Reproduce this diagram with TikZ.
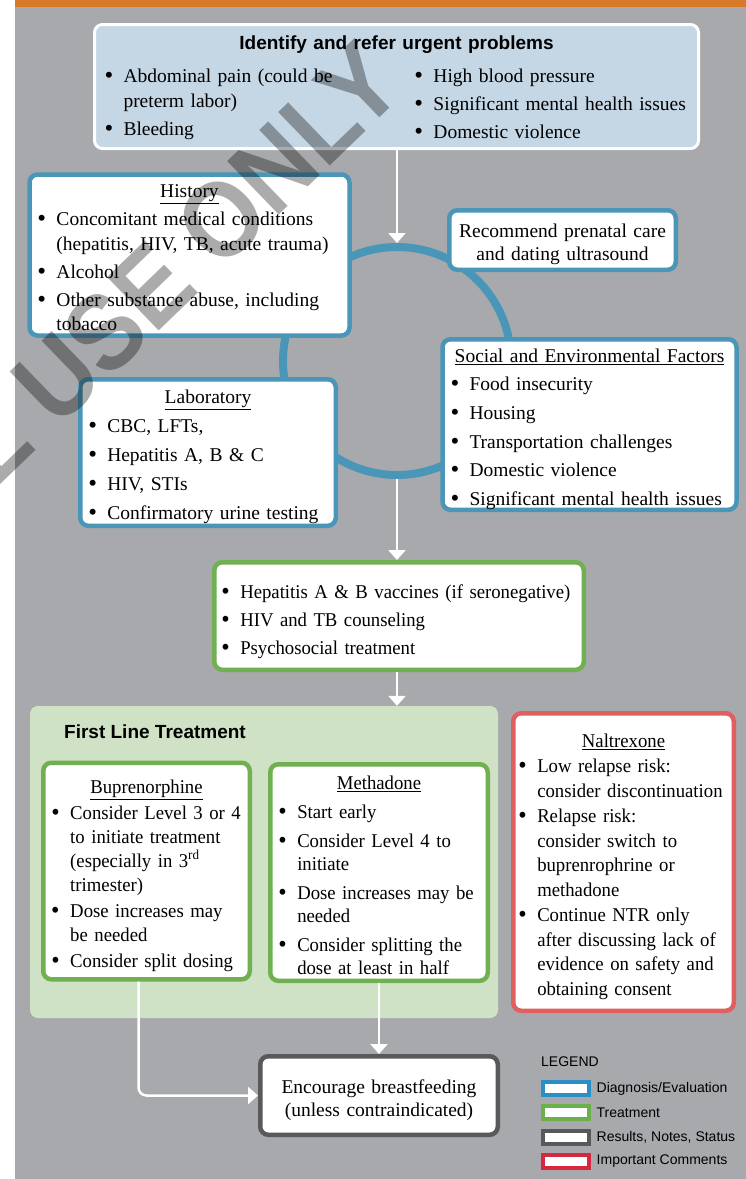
\documentclass[tikz,border=0pt]{standalone}
\usepackage{fontspec}
\setmainfont{Liberation Serif}
\setsansfont{Liberation Sans}
\newfontfamily\wmfamily[FakeStretch=0.9]{Liberation Sans Bold}
\usetikzlibrary{arrows.meta}

\definecolor{bggray}{HTML}{A7A9AC}
\definecolor{barorange}{HTML}{D97A2B}
\definecolor{urgentfill}{HTML}{C5D6E4}
\definecolor{diagblue}{HTML}{4A96B8}
\definecolor{treatgreen}{HTML}{70B050}
\definecolor{panelgreen}{HTML}{D0E2C5}
\definecolor{warnred}{HTML}{E06060}
\definecolor{notegray}{HTML}{58595B}
\definecolor{legblue}{HTML}{2A8FC4}
\definecolor{leggreen}{HTML}{6AB04C}
\definecolor{legred}{HTML}{D7263F}

\newcommand{\bodyfont}{\fontsize{19.5}{24.5}\selectfont}
\newcommand{\headfont}{\sffamily\bfseries\fontsize{19}{22}\selectfont}
\newcommand{\legfont}{\sffamily\fontsize{14}{16}\selectfont}
\newcommand{\wmfont}{\wmfamily\fontsize{108}{112}\selectfont}
\newlength{\bulwd}\setlength{\bulwd}{19pt}
\newcommand{\bigdot}{\raisebox{-1pt}{\fontsize{25}{25}\selectfont\textbullet}}
\newcommand{\bul}[1]{\par\hangindent=\bulwd\hangafter=1\rightskip=-14pt\relax
    \noindent\strut\makebox[\bulwd][l]{\bigdot}#1\strut\par}
\newcommand{\boxtitle}[1]{{\centering\strut\underline{#1}\par}}

\tikzset{
    list spacing/.style 2 args={execute at begin node={\fontsize{19.5}{#1}\selectfont\setlength{\parskip}{#2}}},
    box size/.style 2 args={minimum width=#1pt, minimum height=#2pt, text width=#1pt-16pt},
    boxbase/.style={rectangle, rounded corners=8pt, fill=white, line width=4.5pt,
        inner xsep=8pt, inner ysep=0pt, font=\bodyfont, list spacing={24.5pt}{3.5pt},
        execute at end node={\par\vspace{-9pt}}},
    tight text/.style={font=\bodyfont\addfontfeatures{FakeStretch=0.96}},
    diagbox/.style={boxbase, draw=diagblue},
    treatbox/.style={boxbase, draw=treatgreen},
    notebox/.style={boxbase, draw=notegray},
    warnbox/.style={boxbase, draw=warnred},
    flowarrow/.style={draw=white, line width=2.5pt, -{Triangle[width=17pt,length=10pt]}},
    legswatch/.style={draw, fill=white, line width=4pt, minimum width=46pt, minimum height=13pt, inner sep=0pt}
}

\begin{document}
\begin{tikzpicture}[x=1pt, y=-1pt]

    % Page and background
    \useasboundingbox (0,0) rectangle (746,1179);
    \fill[white] (0,0) rectangle (746,1179);
    \fill[bggray] (15,0) rectangle (746,1179);
    \fill[barorange] (15,0) rectangle (746,7);

    % Ring behind the evaluation boxes
    \node[draw=diagblue,
        circle,
        line width=8pt,
        minimum size=228pt,
        inner sep=0pt] (cycle) at (397,361){};

    % Urgent problems
    \node[boxbase, box size={604}{124},
        draw=white, line width=3pt, fill=urgentfill,
        inner xsep=10pt, text width=584pt] (urgent) at (396.5,86.5){
        {\centering\headfont Identify and refer urgent problems\par}
        \vspace{5pt}
        \noindent\begin{minipage}[t]{310pt}\setlength{\parskip}{3.5pt}
            \bul{Abdominal pain (could be\newline preterm labor)}
            \bul{Bleeding}
        \end{minipage}%
        \begin{minipage}[t]{274pt}\setlength{\parskip}{3.5pt}
            \bul{High blood pressure}
            \bul{Significant mental health issues}
            \bul{Domestic violence}
        \end{minipage}};

    % Evaluation boxes round the ring
    \node[diagbox, box size={320}{161}] (hist) at (189.5,255){
        \boxtitle{History}
        \bul{Concomitant medical conditions\newline (hepatitis, HIV, TB, acute trauma)}
        \bul{Alcohol}
        \bul{Other substance abuse, including\newline tobacco}};

    \node[diagbox, box size={226.5}{59.5},
        align=center, list spacing={23pt}{0pt}] (recom) at (562.5,240){
        Recommend prenatal care\\ and dating ultrasound};

    \node[diagbox, box size={294}{170.5}, list spacing={24.5pt}{4.2pt}] (social) at (589.5,424.5){
        \boxtitle{Social and Environmental Factors}
        \bul{Food insecurity}
        \bul{Housing}
        \bul{Transportation challenges}
        \bul{Domestic violence}
        \bul{Significant mental health issues}};

    \node[diagbox, box size={255.5}{146.5}, list spacing={24.5pt}{4.5pt}] (lab) at (208,452.5){
        \boxtitle{Laboratory}
        \bul{CBC, LFTs,}
        \bul{Hepatitis A, B \& C}
        \bul{HIV, STIs}
        \bul{Confirmatory urine testing}};

    % Vaccines and counseling
    \node[treatbox, box size={369.5}{107.5}, tight text,
        inner xsep=7pt, text width=355.5pt, execute at end node={\par\vspace{8pt}}] (vacc) at (399,616){
        \bul{Hepatitis A \& B vaccines (if seronegative)}
        \bul{HIV and TB counseling}
        \bul{Psychosocial treatment}};

    % First line treatment panel
    \node[fill=panelgreen,
        rounded corners=8pt,
        minimum width=468pt,
        minimum height=312pt,
        inner sep=0pt] (firstline) at (264,862){};
    \node[anchor=west, font=\headfont, inner sep=0pt] (fltitle) at (64,732){First Line Treatment};

    \node[treatbox, box size={206.5}{216.5}, tight text, list spacing={24pt}{2pt}] (bup) at (146.5,871){
        \boxtitle{Buprenorphine}
        \bul{Consider Level 3 or 4\newline to initiate treatment\newline (especially in 3\textsuperscript{rd}\newline trimester)}
        \bul{Dose increases may\newline be needed}
        \bul{Consider split dosing}};

    \node[treatbox, box size={217.5}{216.5}, tight text, list spacing={23pt}{6pt}] (meth) at (379,872.5){
        \boxtitle{Methadone}
        \bul{Start early}
        \bul{Consider Level 4 to\newline initiate}
        \bul{Dose increases may be\newline needed}
        \bul{Consider splitting the\newline dose at least in half}};

    % Naltrexone comments
    \node[warnbox, box size={220.5}{297.5}, tight text, list spacing={24.5pt}{1pt},
        inner xsep=5pt, text width=210.5pt] (nalt) at (623.5,862){
        \boxtitle{Naltrexone}
        \bul{Low relapse risk:\newline consider discontinuation}
        \bul{Relapse risk:\newline consider switch to\newline buprenrophrine or\newline methadone}
        \bul{Continue NTR only\newline after discussing lack of\newline evidence on safety and\newline obtaining consent}};

    % Breastfeeding
    \node[notebox, box size={237.5}{78.5},
        align=center, list spacing={23pt}{0pt}] (breast) at (379,1095.5){
        Encourage breastfeeding\\ (unless contraindicated)};

    % Arrows
    \draw[flowarrow] (urgent.south -| cycle.north) -- (cycle.north);
    \draw[flowarrow] (cycle.south) -- (cycle.south |- vacc.north);
    \draw[flowarrow] (vacc.south -| cycle.south) -- (cycle.south |- firstline.north);
    \draw[flowarrow] (meth.south) -- (meth.south |- breast.north);
    \draw[flowarrow, rounded corners=8pt] ([xshift=-8pt]bup.south) |- (breast.west);

    % Legend
    \node[anchor=west, font=\legfont, inner sep=0pt] (legend) at (541,1062){LEGEND};
    \foreach \col/\txt [count=\i] in {legblue/{Diagnosis/Evaluation}, leggreen/Treatment,
        notegray/{Results, Notes, Status}, legred/{Important Comments}}{
        \node[legswatch, draw=\col] (leg\i) at (565.5,{1088.5+24.3*(\i-1)}){};
        \node[anchor=west, font=\legfont, inner sep=0pt] (legtxt\i) at ([xshift=6pt]leg\i.east){\txt};
    }

    % Watermark
    \begin{scope}
        \clip (0,0) rectangle (746,1179);
        \node[rotate=44, font=\wmfont, text=black, opacity=0.33] (wmark) at (176,263.5){L USE ONLY};
    \end{scope}

\end{tikzpicture}
\end{document}
